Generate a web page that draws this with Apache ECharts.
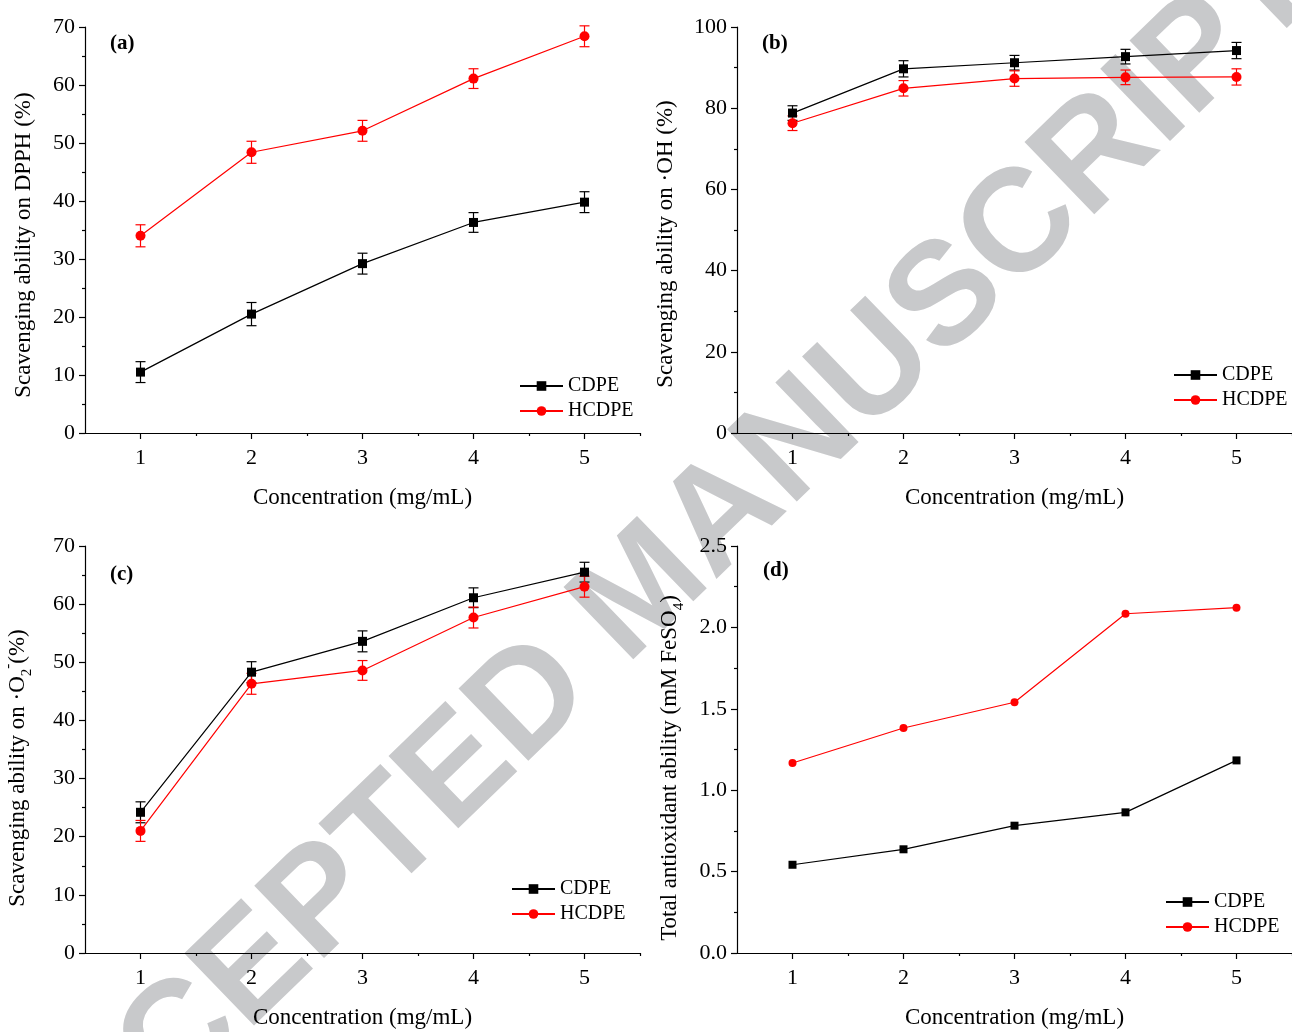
<!DOCTYPE html>
<html>
<head>
<meta charset="utf-8">
<script src="https://cdn.jsdelivr.net/npm/echarts@6/dist/echarts.min.js"></script>
<style>
html,body{margin:0;padding:0;background:#fff;}
#chart{width:1292px;height:1032px;}
</style>
</head>
<body>
<div id="chart"></div>
<script>
// ---- data ----
const concentrations = [1, 2, 3, 4, 5];
const xMajorTicks = [1, 2, 3, 4, 5];
const xMinorTicks = [1.5, 2.5, 3.5, 4.5, 5.5];
const seriesNames = ['CDPE', 'HCDPE'];

const dpphCDPE = [10.5, 20.5, 29.2, 36.3, 39.8];
const dpphCDPEErr = [1.8, 2.0, 1.8, 1.7, 1.8];
const dpphHCDPE = [34.0, 48.4, 52.1, 61.1, 68.4];
const dpphHCDPEErr = [1.9, 1.9, 1.8, 1.7, 1.8];

const ohCDPE = [78.8, 89.7, 91.2, 92.7, 94.2];
const ohCDPEErr = [1.8, 2.0, 1.8, 1.8, 2.0];
const ohHCDPE = [76.3, 84.9, 87.3, 87.6, 87.7];
const ohHCDPEErr = [1.8, 1.9, 1.9, 1.8, 2.0];

const o2CDPE = [24.2, 48.3, 53.6, 61.1, 65.5];
const o2CDPEErr = [1.8, 1.8, 1.8, 1.7, 1.7];
const o2HCDPE = [21.0, 46.3, 48.6, 57.7, 63.0];
const o2HCDPEErr = [1.8, 1.8, 1.7, 1.8, 1.8];

const taCDPE = [0.542, 0.637, 0.782, 0.864, 1.183];
const taHCDPE = [1.167, 1.382, 1.540, 2.084, 2.121];

// ---- styling ----
const SERIF = 'Liberation Serif';
const BLACK = '#000000';
const RED = '#ff0000';

const grids = [
  {left: 85, top: 27, width: 555, height: 406},
  {left: 737, top: 27, width: 555, height: 406},
  {left: 85, top: 546, width: 555, height: 407},
  {left: 737, top: 546, width: 555, height: 407}
];

const yDefs = [
  {min: 0, max: 70, interval: 10, name: 'Scavenging ability on DPPH (%)', gap: 50, shift: 30, fmt: null},
  {min: 0, max: 100, interval: 20, name: 'Scavenging ability on ·OH (%)', gap: 60, shift: 28, fmt: null},
  {min: 0, max: 70, interval: 10, name: '{n|Scavenging ability on ·O}{sub|2}{sup|-}{n|(%)}', gap: 50, shift: 37, fmt: null},
  {min: 0, max: 2.5, interval: 0.5, name: '{n|Total antioxidant ability (mM FeSO}{sub|4}{n|)}', gap: 50, shift: 37, fmt: v => v.toFixed(1)}
];

const richName = {
  n: {fontFamily: SERIF, fontSize: 23, color: BLACK},
  sub: {fontFamily: SERIF, fontSize: 15, color: BLACK, verticalAlign: 'bottom', lineHeight: 34},
  sup: {fontFamily: SERIF, fontSize: 15, color: BLACK, verticalAlign: 'top', lineHeight: 34}
};

const xAxes = [];
const yAxes = [];
grids.forEach((g, i) => {
  xAxes.push({
    type: 'value', gridIndex: i, min: 0.5, max: 5.5,
    name: 'Concentration (mg/mL)', nameLocation: 'middle', nameGap: 53,
    nameTextStyle: {fontFamily: SERIF, fontSize: 23, color: BLACK},
    axisLine: {show: true, onZero: false, lineStyle: {color: BLACK, width: 1.2}},
    axisTick: {show: true, length: 6, customValues: xMajorTicks, lineStyle: {color: BLACK, width: 1.2}},
    axisLabel: {show: true, customValues: xMajorTicks, margin: 14, fontFamily: SERIF, fontSize: 22, color: BLACK},
    splitLine: {show: false}
  });
  xAxes.push({
    type: 'value', gridIndex: i, min: 0.5, max: 5.5, position: 'bottom',
    axisLine: {show: false, onZero: false},
    axisTick: {show: true, length: 3, customValues: xMinorTicks, lineStyle: {color: BLACK, width: 1.2}},
    axisLabel: {show: false},
    splitLine: {show: false}
  });
  const d = yDefs[i];
  yAxes.push({
    type: 'value', gridIndex: i, min: d.min, max: d.max, interval: d.interval,
    name: d.name, nameLocation: 'middle', nameGap: d.gap, nameRotate: 90,
    nameTextStyle: {fontFamily: SERIF, fontSize: 23, color: BLACK, padding: [0, d.shift, 0, 0], rich: richName},
    axisLine: {show: true, onZero: false, lineStyle: {color: BLACK, width: 1.2}},
    axisTick: {show: true, length: 6, lineStyle: {color: BLACK, width: 1.2}},
    minorTick: {show: true, splitNumber: 2, length: 3, lineStyle: {color: BLACK, width: 1.2}},
    axisLabel: {show: true, margin: 10, fontFamily: SERIF, fontSize: 22, color: BLACK, formatter: d.fmt || undefined},
    splitLine: {show: false}
  });
});

function pairs(vals) { return concentrations.map((x, k) => [x, vals[k]]); }
function triples(vals, errs) { return concentrations.map((x, k) => [x, vals[k], errs[k]]); }

function lineSeries(name, vals, gi, color, symbol, size) {
  return {
    type: 'line', name: name, xAxisIndex: gi * 2, yAxisIndex: gi,
    data: pairs(vals), symbol: symbol, symbolSize: size,
    itemStyle: {color: color}, lineStyle: {color: color, width: 1.2},
    z: 3
  };
}

function errSeries(name, vals, errs, gi, color) {
  return {
    type: 'custom', name: name + ' error', xAxisIndex: gi * 2, yAxisIndex: gi,
    data: triples(vals, errs), encode: {x: 0, y: 1}, z: 2,
    renderItem: function (params, api) {
      const x = api.value(0), y = api.value(1), e = api.value(2);
      const t = api.coord([x, y + e]);
      const b = api.coord([x, y - e]);
      const hw = 5;
      const st = {stroke: color, lineWidth: 1.2};
      return {
        type: 'group',
        children: [
          {type: 'line', shape: {x1: t[0], y1: t[1], x2: b[0], y2: b[1]}, style: st},
          {type: 'line', shape: {x1: t[0] - hw, y1: t[1], x2: t[0] + hw, y2: t[1]}, style: st},
          {type: 'line', shape: {x1: b[0] - hw, y1: b[1], x2: b[0] + hw, y2: b[1]}, style: st}
        ]
      };
    }
  };
}

const series = [
  errSeries('CDPE', dpphCDPE, dpphCDPEErr, 0, BLACK),
  errSeries('HCDPE', dpphHCDPE, dpphHCDPEErr, 0, RED),
  lineSeries('CDPE', dpphCDPE, 0, BLACK, 'rect', 9),
  lineSeries('HCDPE', dpphHCDPE, 0, RED, 'circle', 10),

  errSeries('CDPE', ohCDPE, ohCDPEErr, 1, BLACK),
  errSeries('HCDPE', ohHCDPE, ohHCDPEErr, 1, RED),
  lineSeries('CDPE', ohCDPE, 1, BLACK, 'rect', 9),
  lineSeries('HCDPE', ohHCDPE, 1, RED, 'circle', 10),

  errSeries('CDPE', o2CDPE, o2CDPEErr, 2, BLACK),
  errSeries('HCDPE', o2HCDPE, o2HCDPEErr, 2, RED),
  lineSeries('CDPE', o2CDPE, 2, BLACK, 'rect', 9),
  lineSeries('HCDPE', o2HCDPE, 2, RED, 'circle', 10),

  lineSeries('CDPE', taCDPE, 3, BLACK, 'rect', 8),
  lineSeries('HCDPE', taHCDPE, 3, RED, 'circle', 8)
];

const legendPos = [
  {left: 519, top: 376},
  {left: 1173, top: 365},
  {left: 511, top: 879},
  {left: 1165, top: 892}
];
const legends = legendPos.map(p => ({
  data: seriesNames, left: p.left, top: p.top, orient: 'vertical',
  padding: 0, itemWidth: 43, itemHeight: 12, itemGap: 5,
  selectedMode: false,
  textStyle: {fontFamily: SERIF, fontSize: 20, color: BLACK}
}));

const panelLabels = [
  {t: '(a)', x: 110, y: 45},
  {t: '(b)', x: 762, y: 45},
  {t: '(c)', x: 110, y: 576},
  {t: '(d)', x: 763, y: 572}
];

const graphics = [
  {
    type: 'text', x: 645, y: 592, rotation: 44 * Math.PI / 180, z: -100, silent: true,
    style: {text: 'ACCEPTED MANUSCRIPT', x: 0, y: 0, align: 'center', verticalAlign: 'middle',
            font: 'bold 146px "Liberation Sans"', fill: '#c8c9cb'}
  }
].concat(panelLabels.map(p => ({
  type: 'text', left: p.x, top: p.y - 12, z: 10,
  style: {text: p.t, font: 'bold 21px "Liberation Serif"', fill: BLACK}
})));

const chart = echarts.init(document.getElementById('chart'), null, {renderer: 'canvas'});
chart.setOption({
  animation: false,
  backgroundColor: '#ffffff',
  grid: grids,
  xAxis: xAxes,
  yAxis: yAxes,
  legend: legends,
  series: series,
  graphic: graphics
});
</script>
</body>
</html>
